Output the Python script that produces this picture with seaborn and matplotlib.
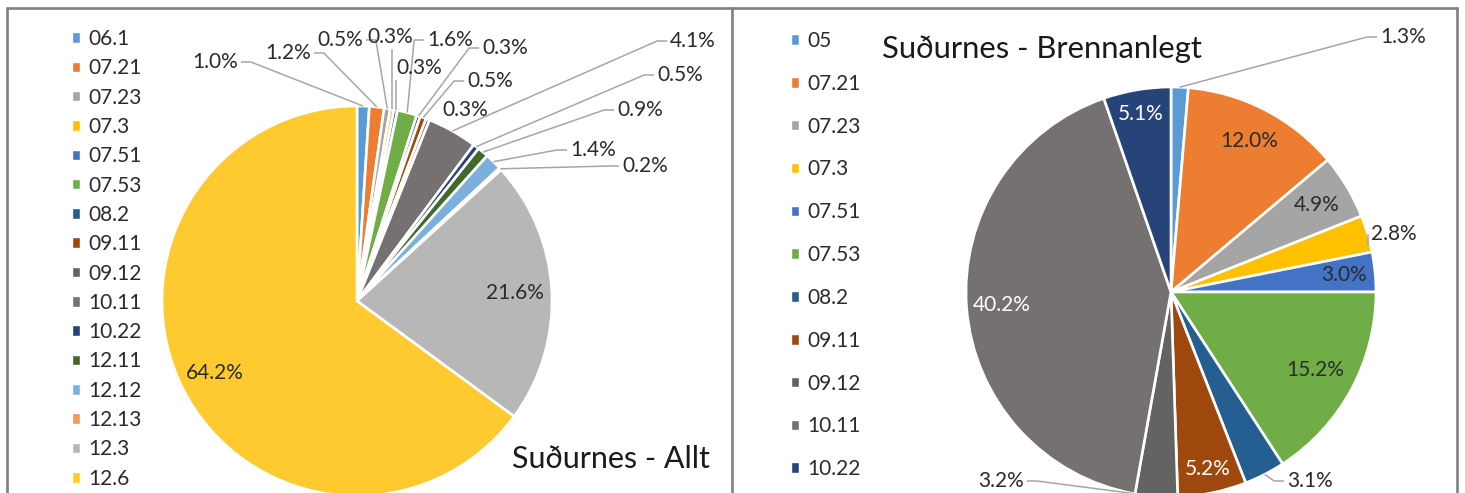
import matplotlib.pyplot as plt
from matplotlib.patches import Patch
import numpy as np
import seaborn as sns

W, H = 1465, 493

# Suðurnes - Allt
allt_cats = ['06.1', '07.21', '07.23', '07.3', '07.51', '07.53', '08.2', '09.11',
             '09.12', '10.11', '10.22', '12.11', '12.12', '12.13', '12.3', '12.6']
allt_vals = [1.0, 1.2, 0.5, 0.3, 0.3, 1.6, 0.3, 0.5, 0.3, 4.1, 0.5, 0.9, 1.4, 0.2, 21.6, 64.2]
allt_colors = ['#5B9BD5', '#ED7D31', '#A5A5A5', '#FFC000', '#4472C4', '#70AD47',
               '#255E91', '#9E480E', '#636363', '#767171', '#264478', '#43682B',
               '#7CAFDD', '#F1975A', '#B7B7B7', '#FFCA30']

# Suðurnes - Brennanlegt
bren_cats = ['05', '07.21', '07.23', '07.3', '07.51', '07.53', '08.2', '09.11',
             '09.12', '10.11', '10.22']
bren_vals = [1.3, 12.0, 4.9, 2.8, 3.0, 15.2, 3.1, 5.2, 3.2, 40.2, 5.1]
bren_colors = ['#5B9BD5', '#ED7D31', '#A5A5A5', '#FFC000', '#4472C4', '#70AD47',
               '#255E91', '#9E480E', '#636363', '#767171', '#264478']

sns.set_theme(style='white')
plt.rcParams['font.family'] = ['Lato', 'DejaVu Sans']

TXT = '#2b2b2b'
LEAD = '#A6A6A6'
FS = 15


def Y(y):
    # image rows (top down) -> axes units (bottom up)
    return H - y


fig = plt.figure(figsize=(W / 100, H / 100), dpi=100)
ax = fig.add_axes([0, 0, 1, 1])


def set_view():
    ax.set_xlim(0, W)
    ax.set_ylim(0, H)
    ax.set_aspect('equal')
    ax.axis('off')


# label layout: outside labels as text centres (image px), inside ones as radius fraction
allt_out = {0: (215, 61), 1: (288, 52), 2: (340, 39), 3: (390, 36), 4: (419, 67),
            5: (450, 39), 6: (505, 47), 7: (490, 80), 8: (465, 109), 9: (693, 40),
            10: (680, 74), 11: (640, 109), 12: (593, 149), 13: (645, 165)}
allt_in = {14: 0.81, 15: 0.82}
bren_out = {0: (1403, 36), 3: (1394, 233), 6: (1310, 480), 8: (1001, 480)}
bren_in = {1: 0.83, 2: 0.83, 4: 0.85, 5: 0.80, 7: 0.88, 9: 0.83, 10: 0.88}
bren_white = {7, 9, 10}


def draw_pie(vals, colors, center, radius, outside, inside, white=()):
    wedges, _ = ax.pie(vals, colors=colors, startangle=90, counterclock=False,
                       center=center, radius=radius,
                       wedgeprops=dict(edgecolor='white', linewidth=1.9))
    set_view()
    renderer = fig.canvas.get_renderer()
    for i, w in enumerate(wedges):
        mid = np.deg2rad((w.theta1 + w.theta2) / 2)
        lab = f'{vals[i]:.1f}%'
        if i in inside:
            d = inside[i] * radius
            ax.text(center[0] + d * np.cos(mid), center[1] + d * np.sin(mid), lab,
                    ha='center', va='center', fontsize=FS,
                    color='white' if i in white else TXT)
            continue
        tx, ty = outside[i]
        t = ax.text(tx, Y(ty) - 7, lab, ha='center', va='baseline', fontsize=FS, color=TXT)
        bb = t.get_window_extent(renderer).transformed(ax.transData.inverted())
        axx = center[0] + radius * np.cos(mid)
        axy = center[1] + radius * np.sin(mid)
        ly = Y(ty) - 1
        if bb.x1 + 4 < axx:
            xs, ys = [axx, bb.x1 + 13, bb.x1 + 3], [axy, ly, ly]
        elif bb.x0 - 4 > axx:
            if bb.x0 - axx < 16 and abs(ly - axy) < 12:
                continue
            xs, ys = [axx, bb.x0 - 13, bb.x0 - 3], [axy, ly, ly]
        else:
            xs, ys = [axx, axx], [axy, bb.y0 - 2]
        ax.plot(xs, ys, color=LEAD, lw=1.1, solid_capstyle='butt', zorder=1)
    return wedges


draw_pie(allt_vals, allt_colors, (357, Y(301)), 195, allt_out, allt_in)
draw_pie(bren_vals, bren_colors, (1171, Y(292)), 205, bren_out, bren_in, bren_white)

# titles
ax.text(512, Y(468), 'Suðurnes - Allt', fontsize=22, ha='left', va='baseline', color='#1a1a1a')
ax.text(882, Y(58), 'Suðurnes - Brennanlegt', fontsize=22.3, ha='left', va='baseline',
        color='#1a1a1a')

# legends
leg_kw = dict(loc='upper left', bbox_transform=ax.transData, frameon=False, fontsize=FS,
              handlelength=0.4, handleheight=0.4, handletextpad=0.37,
              borderpad=0, borderaxespad=0, labelcolor=TXT)
leg1 = ax.legend([Patch(facecolor=c) for c in allt_colors], allt_cats,
                 bbox_to_anchor=(72, Y(29)), labelspacing=0.447, **leg_kw)
ax.add_artist(leg1)
ax.legend([Patch(facecolor=c) for c in bren_colors], bren_cats,
          bbox_to_anchor=(791, Y(31)), labelspacing=1.095, **leg_kw)

# panel frames
fc = '#808080'
ax.plot([7, 1457], [Y(8), Y(8)], color=fc, lw=1.9, zorder=5)
for x in (7, 732, 1457):
    ax.plot([x, x], [0, Y(8)], color=fc, lw=1.9, zorder=5)

set_view()

plt.savefig('out.png', dpi=100, facecolor='white')
